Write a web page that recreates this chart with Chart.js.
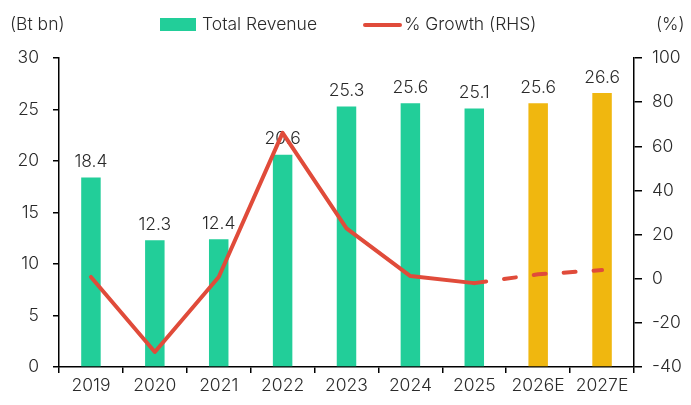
<!DOCTYPE html>
<html>
<head>
<meta charset="utf-8">
<script src="https://cdn.jsdelivr.net/npm/chart.js@4"></script>
<style>
  html, body { margin: 0; padding: 0; background: #fff; }
  #wrap { width: 691px; height: 405px; }
</style>
</head>
<body>
<div id="wrap"><canvas id="revChart" width="691" height="405"></canvas></div>
<script>
const years = ['2019', '2020', '2021', '2022', '2023', '2024', '2025', '2026E', '2027E'];
const revenue = [18.4, 12.3, 12.4, 20.6, 25.3, 25.6, 25.1, 25.6, 26.6];
const growth = [0.8, -33.2, 0.8, 66.1, 22.8, 1.2, -2.0, 2.0, 3.9];
const barColors = ['#22CE99', '#22CE99', '#22CE99', '#22CE99', '#22CE99', '#22CE99', '#22CE99', '#F0B70F', '#F0B70F'];
const leftTicks = [0, 5, 10, 15, 20, 25, 30];
const rightTicks = [-40, -20, 0, 20, 40, 60, 80, 100];
const firstForecast = 6; // dashed from 2025 onwards

const FONT = 'Inter, Lato, sans-serif';
const FSIZE = 17.5;
const TEXT = '#2a2a2a';
const GREEN = '#22CE99';
const RED = '#E04B3A';

// value labels above bars (drawn before the line so the line sits on top)
const barLabels = {
  id: 'barLabels',
  afterDatasetDraw(chart, args) {
    if (args.index !== 0) return;
    const ctx = chart.ctx;
    ctx.save();
    ctx.font = '300 ' + FSIZE + 'px ' + FONT;
    ctx.fillStyle = TEXT;
    ctx.textAlign = 'center';
    ctx.textBaseline = 'bottom';
    args.meta.data.forEach((bar, i) => {
      ctx.fillText(revenue[i].toFixed(1), bar.x, bar.y - 7);
    });
    ctx.restore();
  }
};

// legend + unit labels along the top
const topRow = {
  id: 'topRow',
  afterDraw(chart) {
    const ctx = chart.ctx;
    const y = 25;
    ctx.save();
    ctx.font = '300 ' + FSIZE + 'px ' + FONT;
    ctx.fillStyle = TEXT;
    ctx.textBaseline = 'middle';
    ctx.textAlign = 'left';
    ctx.fillText('(Bt bn)', 10, y);
    ctx.fillText('(%)', 656, y);

    ctx.fillStyle = GREEN;
    ctx.fillRect(160, y - 7, 36, 13);
    ctx.fillStyle = TEXT;
    ctx.fillText('Total Revenue', 202, y);

    ctx.strokeStyle = RED;
    ctx.lineWidth = 4;
    ctx.lineCap = 'round';
    ctx.beginPath();
    ctx.moveTo(365, y);
    ctx.lineTo(400, y);
    ctx.stroke();
    ctx.fillText('% Growth (RHS)', 404, y);
    ctx.restore();
  }
};

const tickFont = { family: FONT, size: FSIZE, weight: '300' };

const ctx = document.getElementById('revChart').getContext('2d');
new Chart(ctx, {
  type: 'bar',
  data: {
    labels: years,
    datasets: [
      {
        label: 'Total Revenue',
        data: revenue,
        backgroundColor: barColors,
        yAxisID: 'y',
        categoryPercentage: 1,
        barPercentage: 0.305,
        order: 2
      },
      {
        type: 'line',
        label: '% Growth (RHS)',
        data: growth,
        yAxisID: 'y2',
        borderColor: RED,
        backgroundColor: RED,
        borderWidth: 4,
        borderCapStyle: 'round',
        borderJoinStyle: 'round',
        pointRadius: 0,
        tension: 0,
        segment: {
          borderDash: c => c.p0DataIndex >= firstForecast ? [12, 18] : undefined
        },
        order: 1
      }
    ]
  },
  options: {
    responsive: false,
    animation: false,
    layout: { padding: { top: 58, right: 0, bottom: 0, left: 0 } },
    plugins: {
      legend: { display: false },
      tooltip: { enabled: false }
    },
    scales: {
      x: {
        offset: true,
        grid: { offset: true, drawOnChartArea: false, drawTicks: true, tickLength: 6, color: '#000', lineWidth: 1.5 },
        border: { display: true, color: '#000', width: 1.5 },
        ticks: { color: TEXT, font: tickFont, padding: 2, maxRotation: 0, autoSkip: false },
        afterFit(scale) { scale.height = 38; }
      },
      y: {
        position: 'left',
        min: 0,
        max: 30,
        afterBuildTicks(scale) { scale.ticks = leftTicks.map(v => ({ value: v })); },
        grid: { drawOnChartArea: false, drawTicks: true, tickLength: 6, color: '#000', lineWidth: 1.5 },
        border: { display: true, color: '#000', width: 1.5 },
        ticks: { color: TEXT, font: tickFont, padding: 14 },
        afterFit(scale) { scale.width = 59; }
      },
      y2: {
        position: 'right',
        min: -40,
        max: 100,
        afterBuildTicks(scale) { scale.ticks = rightTicks.map(v => ({ value: v })); },
        grid: { drawOnChartArea: false, drawTicks: true, tickLength: 8, color: '#000', lineWidth: 1.5 },
        border: { display: true, color: '#000', width: 1.5 },
        ticks: { color: TEXT, font: tickFont, padding: 10 },
        afterFit(scale) { scale.width = 57; }
      }
    }
  },
  plugins: [barLabels, topRow]
});
</script>
</body>
</html>
